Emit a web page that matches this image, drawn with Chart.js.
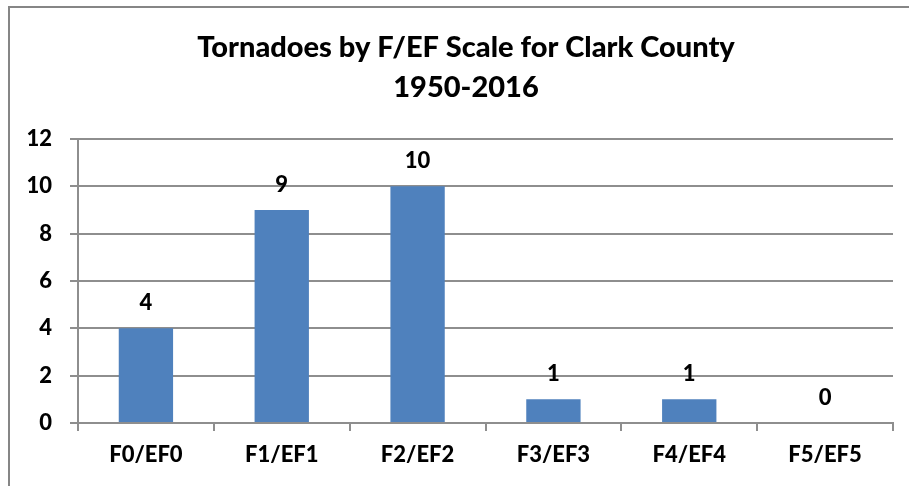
<!DOCTYPE html>
<html>
<head>
<meta charset="utf-8">
<script src="https://cdn.jsdelivr.net/npm/chart.js@4/dist/chart.umd.min.js"></script>
<style>
html,body{margin:0;padding:0;background:#fff;}
#wrap{position:relative;width:909px;height:486px;}
</style>
</head>
<body>
<div id="wrap"><canvas id="c" width="909" height="486"></canvas></div>
<script>
const categories = ['F0/EF0','F1/EF1','F2/EF2','F3/EF3','F4/EF4','F5/EF5'];
const tornadoCounts = [4, 9, 10, 1, 1, 0];
const titleLines = ['Tornadoes by F/EF Scale for Clark County', '1950-2016'];
const yTicks = [0, 2, 4, 6, 8, 10, 12];

const FONT = 'Lato, "Open Sans", "Liberation Sans", sans-serif';
const W = '900';

const frame = {
  id: 'frame',
  beforeDraw(chart) {
    const ctx = chart.ctx;
    ctx.save();
    ctx.fillStyle = '#fff';
    ctx.fillRect(0, 0, chart.width, chart.height);
    ctx.strokeStyle = '#868686';
    ctx.lineWidth = 2;
    ctx.strokeRect(9, 7, 1000, 1000);
    ctx.restore();
  }
};

// center the title over the same span as the reference (slightly right of canvas center)
const titleShift = {
  id: 'titleShift',
  afterLayout(chart) {
    if (chart.titleBlock) {
      chart.titleBlock.left = 39;
      chart.titleBlock.width = chart.titleBlock.right - chart.titleBlock.left;
    }
  }
};

const valueLabels = {
  id: 'valueLabels',
  afterDatasetsDraw(chart) {
    const ctx = chart.ctx;
    const meta = chart.getDatasetMeta(0);
    ctx.save();
    ctx.font = W + ' 22px ' + FONT;
    ctx.fillStyle = '#000';
    ctx.textAlign = 'center';
    ctx.textBaseline = 'alphabetic';
    meta.data.forEach((bar, i) => {
      ctx.fillText(String(chart.data.datasets[0].data[i]), bar.x, bar.y - 18);
    });
    ctx.restore();
  }
};

new Chart(document.getElementById('c'), {
  type: 'bar',
  data: {
    labels: categories,
    datasets: [{
      data: tornadoCounts,
      backgroundColor: '#4F81BD',
      borderWidth: 0,
      barPercentage: 0.4,
      categoryPercentage: 1.0
    }]
  },
  options: {
    responsive: false,
    animation: false,
    devicePixelRatio: 1,
    layout: { padding: { left: 0, right: 16, top: 0, bottom: 0 } },
    plugins: {
      legend: { display: false },
      tooltip: { enabled: false },
      title: {
        display: true,
        text: titleLines,
        color: '#000',
        font: { family: FONT, size: 29, weight: W, lineHeight: 40 / 29 },
        padding: { top: 28, bottom: 31 }
      }
    },
    scales: {
      x: {
        grid: { display: true, drawOnChartArea: false, drawTicks: true, tickLength: 8, color: '#8E8E8E', lineWidth: 2, offset: true },
        border: { display: true, color: '#8E8E8E', width: 2 },
        ticks: { color: '#000', font: { family: FONT, size: 22, weight: W }, padding: 11, maxRotation: 0 },
        afterFit(scale) { scale.height = 63; }
      },
      y: {
        min: 0, max: 12,
        afterBuildTicks(scale) { scale.ticks = yTicks.map(v => ({ value: v })); },
        grid: { color: '#8E8E8E', lineWidth: 2, drawTicks: true, tickLength: 8 },
        border: { display: true, color: '#8E8E8E', width: 2 },
        ticks: { color: '#000', font: { family: FONT, size: 22, weight: W }, padding: 18 },
        afterFit(scale) { scale.width = 78; }
      }
    }
  },
  plugins: [frame, titleShift, valueLabels]
});
</script>
</body>
</html>
